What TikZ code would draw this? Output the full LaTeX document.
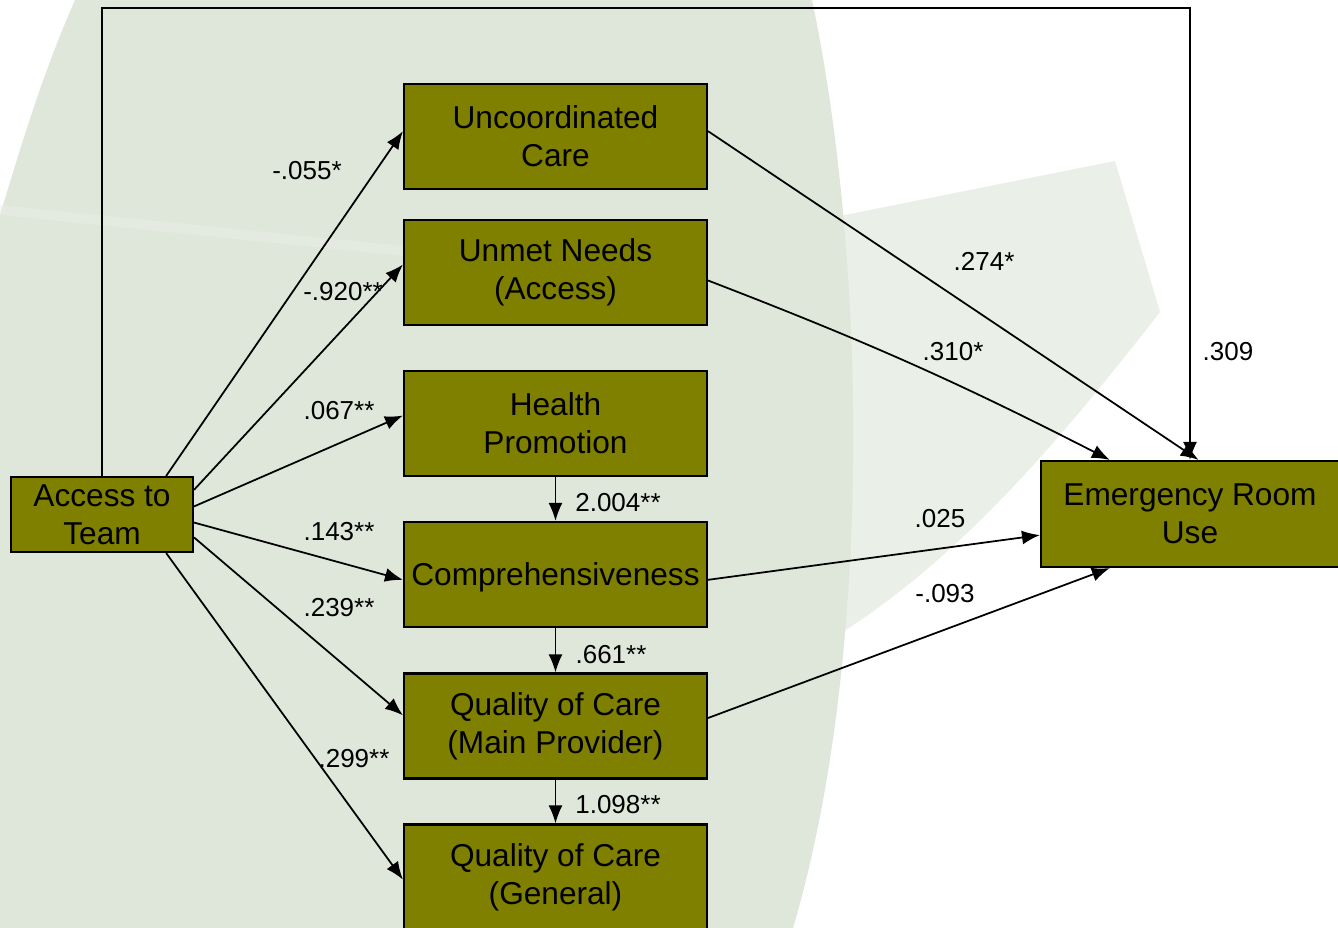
\documentclass[tikz,border=0pt]{standalone}
\usepackage{fontspec}
\setmainfont{Liberation Sans}
\usetikzlibrary{arrows.meta}
\definecolor{oliu}{RGB}{128,128,0}
\definecolor{nenxam}{RGB}{223,230,218}
\definecolor{nennhat}{RGB}{234,239,231}
\begin{document}
\begin{tikzpicture}[x=0.02cm, y=-0.02cm, >={Latex[length=3.6mm, width=2.8mm]},
    o/.style={draw=black, line width=1.2pt, fill=oliu, align=center, inner sep=0pt,
      minimum width=6.06cm, minimum height=2.1cm, font=\fontsize{18}{21.6}\selectfont},
    heso/.style={font=\fontsize{14.8}{17}\selectfont},
    noi/.style={->, line width=1pt}]
    % Nền
    \useasboundingbox (0,0) rectangle (1338,928);
    \fill[white] (0,0) rectangle (1338,928);
    \fill[nennhat] (0,215) -- (560,272) -- (1115,161) -- (1160,312)
        .. controls (1060,440) and (960,560) .. (830,640) -- (0,640) -- cycle;
    \fill[nenxam] (75,0) .. controls (40,80) and (20,150) .. (0,215) -- (0,928) -- (793,928)
        .. controls (875,650) and (865,250) .. (812,0) -- cycle;
    \fill[nennhat, opacity=0.5] (0,215) -- (560,272) -- (560,262) -- (0,205) -- cycle;
    % Các ô
    \node[o, minimum width=3.64cm, minimum height=1.5cm] (access) at (102,514.5) {Access to\\Team};
    \node[o] (uncoord) at (555.5,136.5) {Uncoordinated\\Care};
    \node[o] (unmet) at (555.5,272.5) {Unmet Needs\\(Access)};
    \node[o] (health) at (555.5,423.5) {Health\\Promotion};
    \node[o, text depth=0pt] (compre) at (555.5,574.5) {Comprehensiveness};
    \node[o] (qmain) at (555.5,726) {Quality of Care\\(Main Provider)};
    \node[o] (qgen) at (555.5,877) {Quality of Care\\(General)};
    \node[o, minimum width=5.96cm, minimum height=2.12cm] (eru) at (1190,514) {Emergency Room\\Use};
    % Mũi tên từ Access to Team
    \foreach \tu/\den/\goc in {31.58/uncoord/178.7, 15.07/unmet/177.9, 5.34/health/177.9,
        -5.34/compre/182.1, -14.5/qmain/176.6, -31.58/qgen/181.9} {
        \draw[noi] (access.\tu) -- (\den.\goc);
    }
    \coordinate (goc) at (1190,8);
    \draw[noi] (access.north) |- (goc) -- (eru.north);
    % Mũi tên dọc
    \foreach \a/\b in {health/compre, compre/qmain, qmain/qgen} {
        \draw[noi] (\a) -- (\b);
    }
    % Mũi tên tới Emergency Room Use
    \draw[noi] (uncoord.2.46) -- (eru.81.4);
    \draw[noi] (unmet.-3.6) to[bend left=3] (eru.146.1);
    \draw[noi] (compre.-2.84) -- (eru.188.4);
    \draw[noi] (qmain.3) -- (eru.214.9);
    % Hệ số
    \node[heso] (h1) at (307,171) {-.055*};
    \node[heso] (h2) at (343,292) {-.920**};
    \node[heso] (h3) at (339,411) {.067**};
    \node[heso] (h4) at (339,532) {.143**};
    \node[heso] (h5) at (339,608) {.239**};
    \node[heso] (h6) at (354,759) {.299**};
    \node[heso] (h7) at (618,503) {2.004**};
    \node[heso] (h8) at (611,655) {.661**};
    \node[heso] (h9) at (618,805) {1.098**};
    \node[heso] (h10) at (984,261) {.274*};
    \node[heso] (h11) at (953,352) {.310*};
    \node[heso] (h12) at (1228,352) {.309};
    \node[heso] (h13) at (940,519) {.025};
    \node[heso] (h14) at (945,594) {-.093};
\end{tikzpicture}
\end{document}
